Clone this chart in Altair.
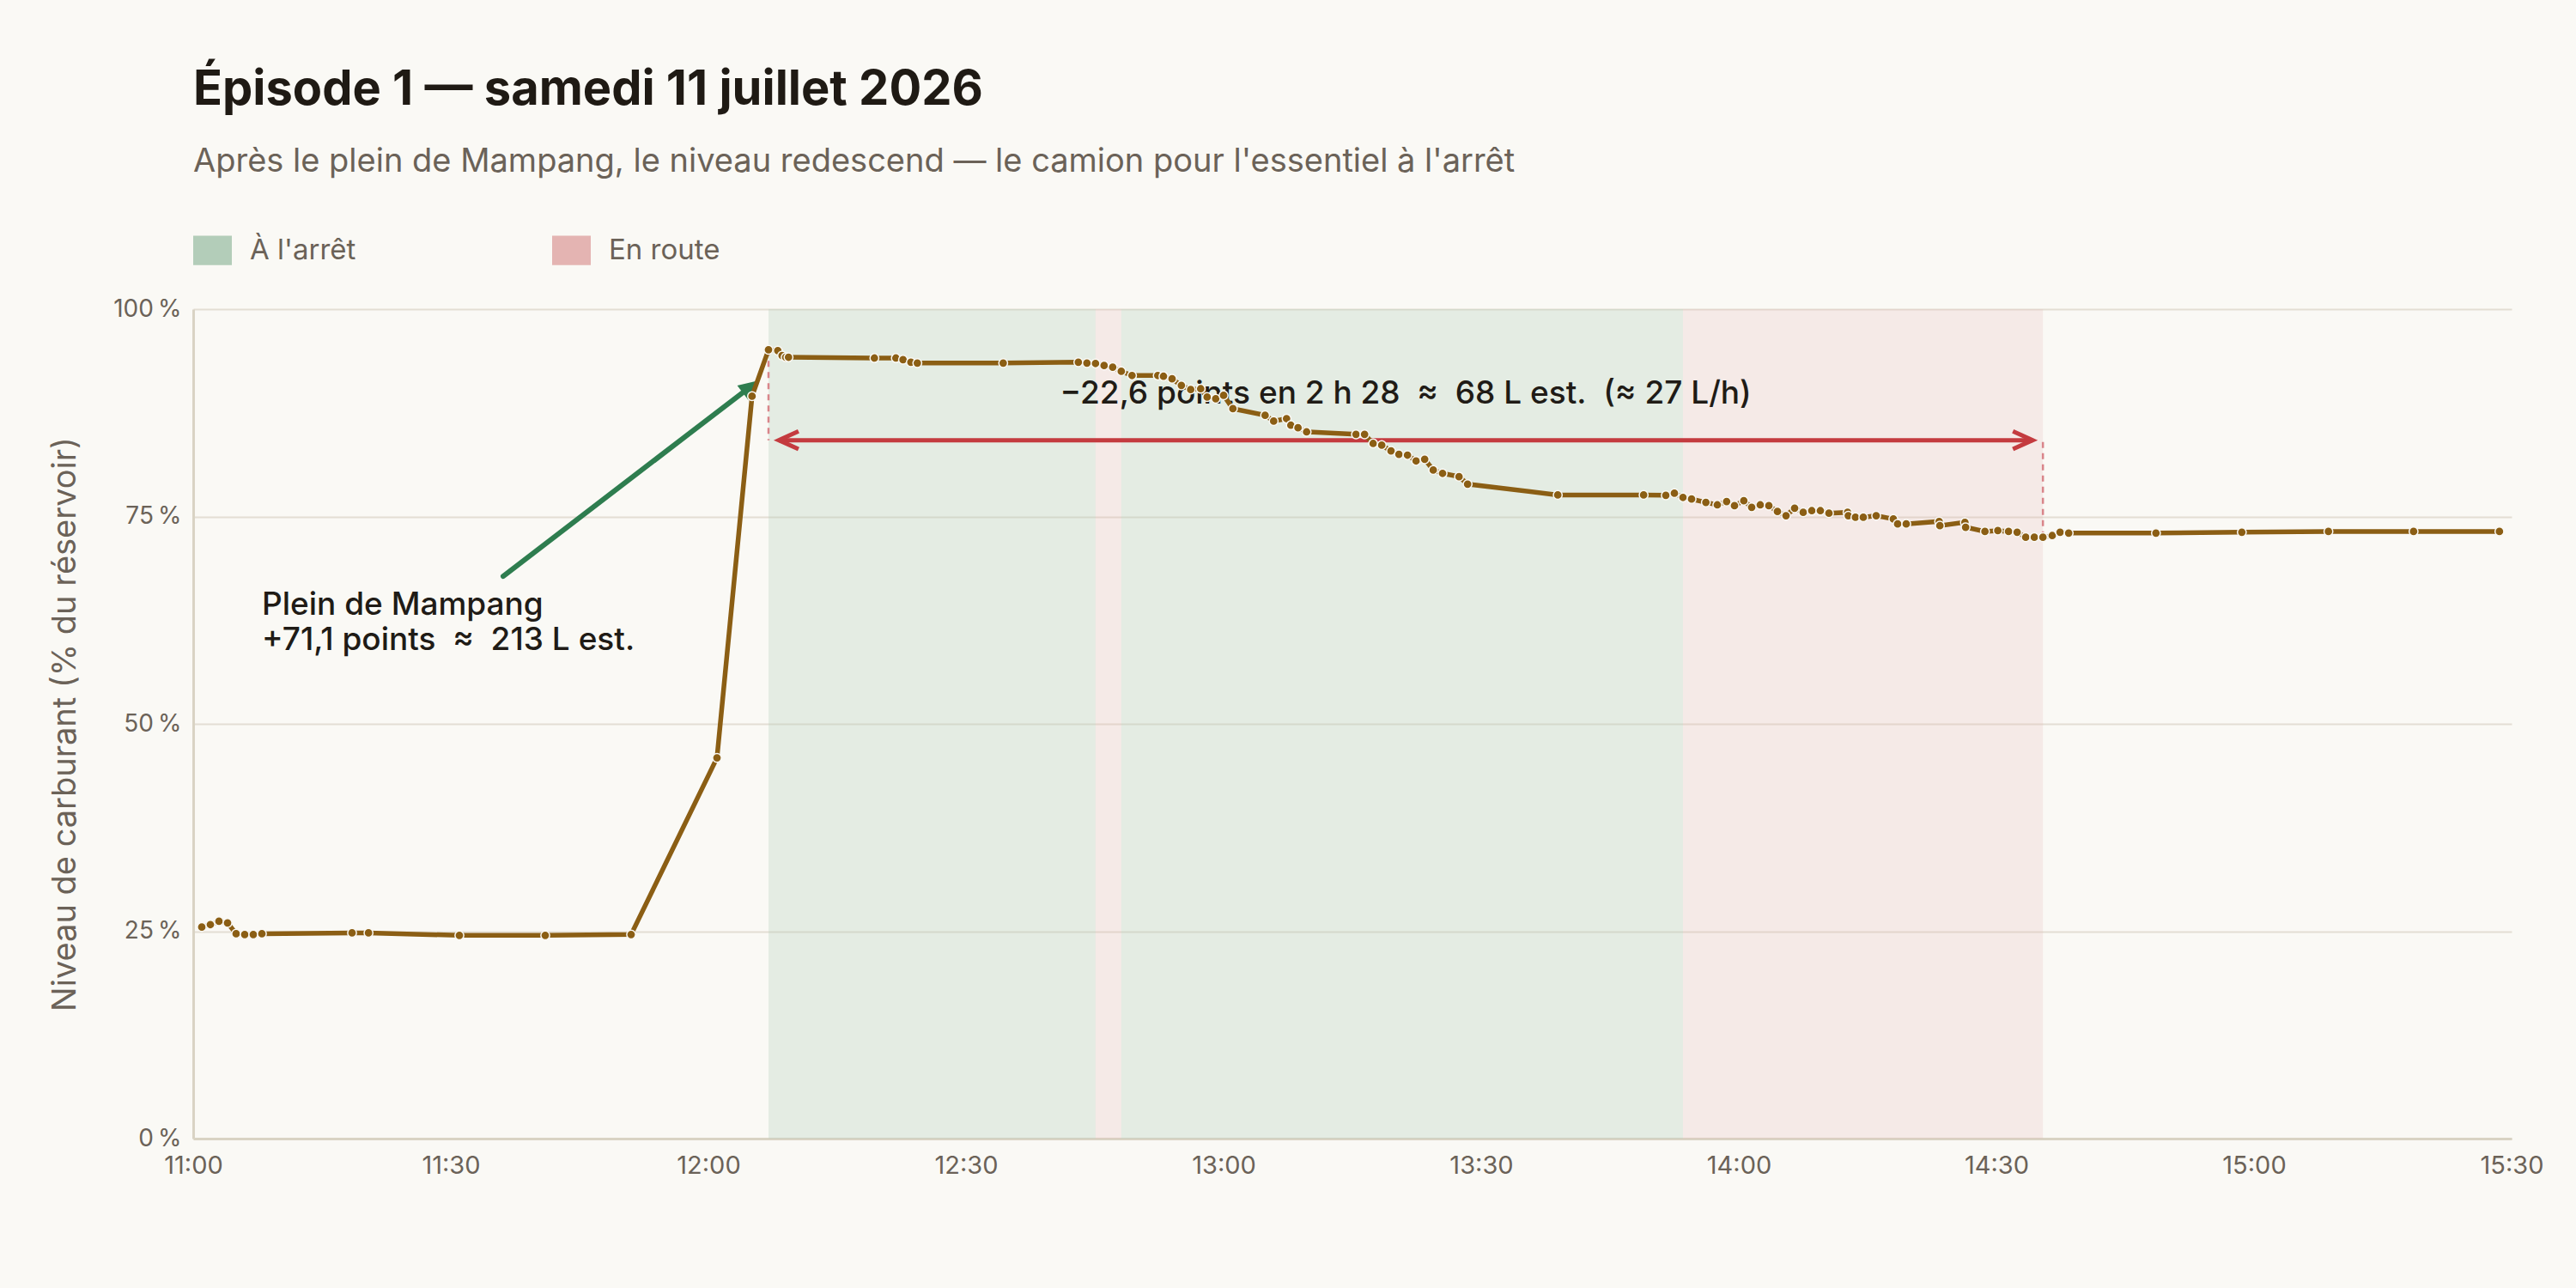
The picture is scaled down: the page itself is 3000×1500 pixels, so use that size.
import altair as alt
import pandas as pd

FONT = "Inter"
ORIGINE = "11:00:00"   # début de l'axe horaire
FIN = "15:30:00"
NBSP = "\u00a0"

# Relevés de la jauge : heure locale et niveau (% du réservoir)
heures = [
    "11:01:00", "11:02:00", "11:03:00", "11:04:00", "11:05:00", "11:06:00", "11:07:00", "11:08:00",
    "11:18:30", "11:20:25", "11:31:00", "11:41:00", "11:51:00",
    "12:01:00", "12:05:05", "12:07:00", "12:08:05", "12:08:35", "12:09:00", "12:09:20",
    "12:19:20", "12:21:50", "12:22:40", "12:23:35", "12:24:20", "12:34:20",
    "12:43:05", "12:44:05", "12:45:05", "12:46:05", "12:47:05", "12:48:05", "12:49:20",
    "12:52:20", "12:53:00", "12:54:00", "12:55:05", "12:56:10", "12:57:20", "12:58:05", "12:59:05", "13:00:00", "13:01:05",
    "13:04:50", "13:05:50", "13:07:20", "13:07:50", "13:08:40", "13:09:40",
    "13:15:25", "13:16:25", "13:17:25", "13:18:25", "13:19:30", "13:20:25", "13:21:25", "13:22:25", "13:23:25", "13:24:25", "13:25:30", "13:27:25", "13:28:25",
    "13:38:55", "13:48:55", "13:51:30", "13:52:30", "13:53:30", "13:54:30", "13:56:10", "13:57:30", "13:58:35", "13:59:30",
    "14:00:35", "14:01:30", "14:02:30", "14:03:30", "14:04:30", "14:05:30", "14:06:30", "14:07:30", "14:08:30", "14:09:30", "14:10:30",
    "14:12:40", "14:12:45", "14:13:35", "14:14:30", "14:16:00", "14:18:00", "14:18:30", "14:19:30",
    "14:23:20", "14:23:25", "14:26:20", "14:26:25", "14:28:40", "14:30:10", "14:31:25", "14:32:25", "14:33:25", "14:34:25", "14:35:25",
    "14:36:30", "14:37:25", "14:38:25", "14:48:35", "14:58:35", "15:08:40", "15:18:35", "15:28:35",
]
niveaux = [
    25.5, 25.8, 26.2, 26.0, 24.7, 24.6, 24.6, 24.7,
    24.8, 24.8, 24.5, 24.5, 24.6,
    45.9, 89.5, 95.1, 95.0, 94.4, 94.2, 94.2,
    94.1, 94.1, 93.9, 93.6, 93.5, 93.5,
    93.6, 93.5, 93.45, 93.2, 93.0, 92.5, 92.0,
    92.0, 91.9, 91.6, 90.8, 90.3, 90.4, 89.4, 89.2, 89.6, 88.0,
    87.2, 86.5, 86.8, 86.0, 85.7, 85.2,
    84.9, 84.9, 83.8, 83.6, 82.9, 82.5, 82.4, 81.7, 81.9, 80.6, 80.2, 79.8, 78.9,
    77.6, 77.6, 77.55, 77.8, 77.3, 77.1, 76.7, 76.4, 76.8, 76.3,
    76.9, 76.1, 76.4, 76.3, 75.6, 75.1, 76.0, 75.5, 75.7, 75.7, 75.4,
    75.5, 75.1, 74.9, 74.9, 75.1, 74.7, 74.1, 74.1,
    74.4, 73.9, 74.3, 73.7, 73.2, 73.3, 73.2, 73.1, 72.5, 72.5, 72.5,
    72.7, 73.1, 73.0, 73.0, 73.1, 73.2, 73.2, 73.2,
]

# Périodes d'activité du camion
etats = ["À l'arrêt", "En route", "À l'arrêt", "En route"]
debuts = ["12:07:00", "12:45:05", "12:48:05", "13:53:30"]
fins = ["12:45:05", "12:48:05", "13:53:30", "14:35:25"]
etat_domaine = ["À l'arrêt", "En route"]

# Graduations horaires
graduations = ["11:00", "11:30", "12:00", "12:30", "13:00", "13:30", "14:00", "14:30", "15:00", "15:30"]

# Plein : texte et flèche
plein_lignes = ["Plein de Mampang", f"+71,1 points{NBSP}{NBSP}≈{NBSP}{NBSP}213 L est."]
plein_heure = "11:08:00"
plein_y = [63.1, 58.9]
fleche_heures = ["11:36:06", "12:04:42"]
fleche_y = [67.8, 90.5]
fleche_pointe = ("12:05:54", 91.4)

# Descente : du sommet après le plein jusqu'au creux
descente_debut = ("12:07:00", 95.1)
descente_fin = ("14:35:25", 72.5)
descente_fleche_y = 84.2
descente_texte = (f"−22,6 points en 2 h 28{NBSP}{NBSP}≈{NBSP}{NBSP}68 L est."
                  f"{NBSP}{NBSP}(≈ 27 L/h)")
descente_texte_y = 89.8


def minutes(h):
    """Minutes écoulées depuis le début de l'axe."""
    parts = [int(p) for p in h.split(":")] + [0]
    h0 = [int(p) for p in ORIGINE.split(":")]
    return (parts[0] - h0[0]) * 60 + (parts[1] - h0[1]) + parts[2] / 60


t0 = minutes(descente_debut[0])
t1 = minutes(descente_fin[0])
retrait = 1.2

releves = pd.DataFrame({"t": [minutes(h) for h in heures], "niveau": niveaux})
periodes = pd.DataFrame({
    "etat": etats,
    "debut": [minutes(h) for h in debuts],
    "fin": [minutes(h) for h in fins],
})
plein_txt = pd.DataFrame({"t": [minutes(plein_heure)] * 2, "y": plein_y, "txt": plein_lignes})
fleche = pd.DataFrame({"t": [minutes(h) for h in fleche_heures], "y": fleche_y})
pointe = pd.DataFrame({"t": [minutes(fleche_pointe[0])], "y": [fleche_pointe[1]]})
reperes = pd.DataFrame({
    "t": [t0, t1],
    "y": [descente_debut[1], descente_fin[1]],
    "y2": [descente_fleche_y, descente_fleche_y],
})
duree = pd.DataFrame({"t": [t0 + retrait], "t2": [t1 - retrait], "y": [descente_fleche_y]})
chevron_g = pd.DataFrame({"t": [t0 + retrait], "y": [descente_fleche_y]})
chevron_d = pd.DataFrame({"t": [t1 - retrait], "y": [descente_fleche_y]})
milieu = pd.DataFrame({"t": [(t0 + t1) / 2], "y": [descente_texte_y], "txt": [descente_texte]})

x_scale = alt.Scale(domain=[minutes(ORIGINE), minutes(FIN)], nice=False, zero=False)
y_scale = alt.Scale(domain=[0, 100], nice=False)
x_axis = alt.Axis(values=[minutes(g + ":00") for g in graduations],
                  labelExpr="floor(datum.value / 60) + 11 + ':' + (datum.value % 60 == 0 ? '00' : '30')",
                  grid=False, labelFlush=False, labelPadding=17, ticks=False, title=None)
y_axis = alt.Axis(values=[0, 25, 50, 75, 100], labelExpr="datum.value + '\u202f%'", grid=True,
                  ticks=False, labelPadding=14, labelFontSize=28,
                  title="Niveau de carburant (% du réservoir)",
                  titleFont=FONT, titleFontSize=38, titleFontWeight=400, titleColor="#6b6258",
                  titlePadding=36)


def X(field="t"):
    return alt.X(f"{field}:Q", scale=x_scale, axis=x_axis)


def Y(field="y"):
    return alt.Y(f"{field}:Q", scale=y_scale, axis=y_axis)


# Symbole de légende : rectangle un peu plus large que haut
legende_rect = "M-1,-0.76H1V0.76H-1Z"

bandes = alt.Chart(periodes).mark_rect(strokeWidth=0).encode(
    x=X("debut"),
    x2="fin:Q",
    fill=alt.Fill("etat:N", scale=alt.Scale(domain=etat_domaine, range=["#b3cdb9", "#e4b4b2"]),
                  legend=alt.Legend(title=None, orient="none", legendX=0, legendY=-91,
                                    direction="horizontal", symbolType=legende_rect,
                                    symbolSize=2025, symbolOpacity=1, symbolStrokeWidth=0,
                                    labelFont=FONT, labelFontSize=33, labelColor="#6b6258",
                                    labelOffset=21, columnPadding=228, padding=0)),
    fillOpacity=alt.FillOpacity("etat:N", scale=alt.Scale(domain=etat_domaine, range=[0.3, 0.21]),
                                legend=None),
)

pointilles = alt.Chart(reperes).mark_rule(color="#d9858a", strokeWidth=2.5, strokeDash=[7, 6]).encode(
    x=X(), y=Y(), y2="y2:Q",
)

texte_descente = alt.Chart(milieu).mark_text(
    font=FONT, fontSize=37, fontWeight=500, color="#201b16", align="center", baseline="middle",
).encode(x=X(), y=Y(), text="txt:N")

fleche_rouge = alt.Chart(duree).mark_rule(color="#c43b3f", strokeWidth=5).encode(
    x=X(), x2="t2:Q", y=Y(),
)
pointe_rouge_g = alt.Chart(chevron_g).mark_point(
    shape="M1.8,-0.82L0,0L1.8,0.82", filled=False, stroke="#c43b3f", strokeWidth=5,
    size=650, opacity=1,
).encode(x=X(), y=Y())
pointe_rouge_d = alt.Chart(chevron_d).mark_point(
    shape="M-1.8,-0.82L0,0L-1.8,0.82", filled=False, stroke="#c43b3f", strokeWidth=5,
    size=650, opacity=1,
).encode(x=X(), y=Y())

fleche_verte = alt.Chart(fleche).mark_line(color="#2e7d4f", strokeWidth=6, strokeCap="round").encode(
    x=X(), y=Y(),
)
pointe_verte = alt.Chart(pointe).mark_point(
    shape="M0,0L-0.8,1.8L0.8,1.8Z", filled=True, color="#2e7d4f", size=700, angle=53, opacity=1,
).encode(x=X(), y=Y())

courbe = alt.Chart(releves).mark_line(color="#8b5e14", strokeWidth=5.5).encode(x=X(), y=Y("niveau"))
points = alt.Chart(releves).mark_circle(
    color="#8b5e14", size=105, stroke="#faf9f5", strokeWidth=1.5, opacity=1,
).encode(x=X(), y=Y("niveau"))

texte_plein = alt.Chart(plein_txt).mark_text(
    font=FONT, fontSize=37, fontWeight=500, color="#201b16", align="left", baseline="alphabetic",
).encode(x=X(), y=Y(), text="txt:N")

chart = alt.layer(
    bandes, pointilles, texte_descente, fleche_rouge, pointe_rouge_g, pointe_rouge_d,
    fleche_verte, pointe_verte, courbe, points, texte_plein,
).properties(
    width=2700,
    height=966,
    autosize=alt.AutoSizeParams(type="none"),
    padding={"left": 225, "top": 360, "right": 75, "bottom": 174},
    background="#faf9f5",
    title=alt.TitleParams(
        text="Épisode 1 — samedi 11 juillet 2026",
        subtitle="Après le plein de Mampang, le niveau redescend — le camion pour l'essentiel à l'arrêt",
        anchor="start", frame="group", font=FONT, fontSize=56, fontWeight=700, color="#1f1a14",
        subtitleFont=FONT, subtitleFontSize=38, subtitleColor="#6b6258", subtitlePadding=36,
        offset=60,
    ),
).configure_view(
    stroke=None,
).configure_axis(
    labelFont=FONT, labelFontSize=29, labelColor="#6b6258",
    domainColor="#d9d3c4", domainWidth=3,
    gridColor="#e3ded4", gridWidth=2,
)

chart.save("out.html", embed_options={"renderer": "svg", "actions": False})
